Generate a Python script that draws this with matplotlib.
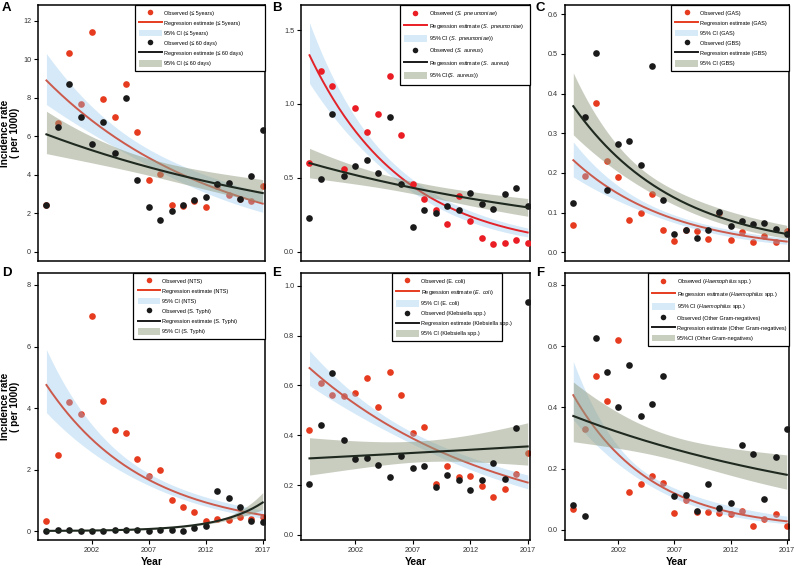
import numpy as np
import matplotlib.pyplot as plt
from matplotlib.lines import Line2D
from matplotlib.patches import Patch

plt.rcParams['font.family'] = ['Liberation Sans', 'DejaVu Sans']
plt.rcParams['mathtext.fontset'] = 'custom'
plt.rcParams['mathtext.rm'] = 'Liberation Sans'
plt.rcParams['mathtext.it'] = 'Liberation Sans:italic'

# ------------------------------------
# Data (incidence per 1000), 1998 - 2017
# fit = regression estimate at 1998 / 2017
# lo, hi = 95% CI at 1998 / 2007.5 / 2017
# ------------------------------------
years = np.arange(1998, 2018)

a_red = [2.45, 6.7, 10.35, 7.7, 11.4, 7.95, 7.0, 8.7, 6.2, 3.75,
         4.05, 2.45, 2.4, 2.65, 2.35, 3.4, 2.95, 2.75, 2.65, 3.4]
a_black = [2.45, 6.5, 8.7, 7.0, 5.6, 6.75, 5.15, 8.0, 3.75, 2.3,
           1.65, 2.1, 2.45, 2.7, 2.85, 3.5, 3.55, 2.75, 3.95, 6.3]
a_red_fit = [8.9, 2.5]
a_red_lo = [7.65, 4.31, 2.05]
a_red_hi = [10.3, 5.16, 3.05]
a_black_fit = [6.1, 3.05]
a_black_lo = [5.1, 3.90, 2.55]
a_black_hi = [7.3, 4.76, 3.75]

b_red = [0.60, 1.22, 1.12, 0.56, 0.97, 0.81, 0.93, 1.19, 0.79, 0.46,
         0.36, 0.28, 0.19, 0.38, 0.21, 0.09, 0.05, 0.06, 0.08, 0.06]
b_black = [0.23, 0.49, 0.93, 0.51, 0.58, 0.62, 0.53, 0.91, 0.46, 0.17,
           0.28, 0.26, 0.31, 0.28, 0.40, 0.32, 0.29, 0.39, 0.43, 0.31]
b_red_fit = [1.33, 0.13]
b_red_lo = [1.14, 0.376, 0.10]
b_red_hi = [1.55, 0.46, 0.16]
b_black_fit = [0.60, 0.30]
b_black_lo = [0.50, 0.385, 0.24]
b_black_hi = [0.70, 0.467, 0.36]

c_red = [0.068, 0.192, 0.376, 0.231, 0.189, 0.082, 0.099, 0.146, 0.057, 0.028,
         0.055, 0.053, 0.033, 0.098, 0.030, 0.050, 0.027, 0.040, 0.027, 0.053]
c_black = [0.125, 0.34, 0.501, 0.157, 0.274, 0.280, 0.221, 0.469, 0.132, 0.046,
           0.057, 0.036, 0.057, 0.102, 0.067, 0.078, 0.070, 0.074, 0.059, 0.045]
c_red_fit = [0.232, 0.027]
c_red_lo = [0.19, 0.070, 0.02]
c_red_hi = [0.278, 0.089, 0.035]
c_black_fit = [0.368, 0.046]
c_black_lo = [0.296, 0.113, 0.035]
c_black_hi = [0.452, 0.150, 0.068]

d_red = [0.33, 2.46, 4.21, 3.80, 6.99, 4.22, 3.30, 3.18, 2.34, 1.80,
         1.99, 1.00, 0.78, 0.62, 0.32, 0.40, 0.37, 0.45, 0.38, 0.45]
d_black = [0.0, 0.02, 0.02, 0.0, 0.0, 0.0, 0.05, 0.03, 0.02, 0.01,
           0.02, 0.02, 0.01, 0.11, 0.18, 1.29, 1.06, 0.79, 0.33, 0.29]
d_red_fit = [4.75, 0.52]
d_red_lo = [3.85, 1.40, 0.42]
d_red_hi = [5.9, 1.77, 0.68]
d_black_fit = [0.0064, 0.93]
d_black_lo = [0.003, 0.058, 0.70]
d_black_hi = [0.014, 0.10, 1.25]

e_red = [0.42, 0.61, 0.56, 0.557, 0.568, 0.63, 0.514, 0.656, 0.561, 0.41,
         0.432, 0.206, 0.276, 0.234, 0.238, 0.198, 0.153, 0.182, 0.244, 0.329]
e_black = [0.205, 0.442, 0.65, 0.379, 0.305, 0.309, 0.282, 0.234, 0.315, 0.269,
           0.278, 0.194, 0.242, 0.221, 0.178, 0.221, 0.29, 0.224, 0.43, 0.937]
e_red_fit = [0.67, 0.21]
e_red_lo = [0.60, 0.353, 0.185]
e_red_hi = [0.74, 0.399, 0.24]
e_black_fit = [0.307, 0.355]
e_black_lo = [0.24, 0.293, 0.28]
e_black_hi = [0.39, 0.377, 0.45]

f_red = [0.067, 0.329, 0.502, 0.421, 0.62, 0.124, 0.150, 0.177, 0.152, 0.054,
         0.097, 0.06, 0.057, 0.054, 0.052, 0.063, 0.013, 0.034, 0.052, 0.013]
f_black = [0.08, 0.045, 0.628, 0.515, 0.40, 0.538, 0.373, 0.412, 0.503, 0.112,
           0.115, 0.062, 0.15, 0.07, 0.089, 0.278, 0.249, 0.10, 0.238, 0.33]
f_red_fit = [0.44, 0.028]
f_red_lo = [0.36, 0.096, 0.02]
f_red_hi = [0.55, 0.129, 0.045]
f_black_fit = [0.372, 0.18]
f_black_lo = [0.288, 0.224, 0.133]
f_black_hi = [0.483, 0.299, 0.245]

a_labels = ["Observed (≤ 5years)", "Regression estimate (≤ 5years)", "95% CI (≤ 5years)",
            "Observed (≤ 60 days)", "Regression estimate (≤ 60 days)", "95% CI (≤ 60 days)"]
b_labels = [r"Observed ($\it{S.\ pneumoniae}$)", r"Regression estimate ($\it{S.\ pneumoniae}$)",
            r"95% CI ($\it{S.\ pneumoniae}$))", r"Observed ($\it{S.\ aureus}$)",
            r"Regression estimate ($\it{S.\ aureus}$)", r"95% CI($\it{S.\ aureus}$))"]
c_labels = ["Observed (GAS)", "Regression estimate (GAS)", "95% CI (GAS)",
            "Observed (GBS)", "Regression estimate (GBS)", "95% CI (GBS)"]
d_labels = ["Observed (NTS)", "Regression estimate (NTS)", "95% CI (NTS)",
            "Observed (S. Typhi)", "Regression estimate (S. Typhi)", "95% CI (S. Typhi)"]
e_labels = ["Observed (E. coli)", r"Regression estimate ($\it{E.\ coli}$)", "95% CI (E. coli)",
            "Observed (Klebsiella spp.)", "Regression estimate (Klebsiella spp.)",
            "95% CI (Klebsiella spp.)"]
f_labels = [r"Observed ($\it{Haemophilus}$ spp.)", r"Regression estimate ($\it{Haemophilus}$ spp.)",
            r"95% CI ($\it{Haemophilus}$ spp.)", "Observed (Other Gram-negatives)",
            "Regression estimate (Other Gram-negatives)", "95%CI (Other Gram-negatives)"]

year_ticks = [2002, 2007, 2012, 2017]

RED = "#e63b1f"
RED_LINE = "#cc5a4c"
BLUE = "#8fc5ec"
GREEN = "#929c80"
BLACK = "#1a1a1a"
BLACK_LINE = "#1f291f"


# ------------------------------------
# Regression curve with log-scale CI band
# ------------------------------------
def regression_curve(t, fit, lo, hi):
    knots = np.array([1998, 2007.5, 2017])
    slope = (np.log(fit[1]) - np.log(fit[0])) / 19
    centre = np.log(fit[0]) + slope * (t - 1998)
    centre_k = np.log(fit[0]) + slope * (knots - 1998)
    w_lo = np.polyfit(knots, (centre_k - np.log(lo)) ** 2, 2)
    w_hi = np.polyfit(knots, (np.log(hi) - centre_k) ** 2, 2)
    lower = np.exp(centre - np.sqrt(np.clip(np.polyval(w_lo, t), 0, None)))
    upper = np.exp(centre + np.sqrt(np.clip(np.polyval(w_hi, t), 0, None)))
    return np.exp(centre), lower, upper


# ------------------------------------
# One panel
# ------------------------------------
def draw_panel(ax, red, black, red_fit, red_lo, red_hi, black_fit, black_lo, black_hi,
               labels, ylim, yticks, yfmt, bottom, legend_box, red_col, red_line_col, red_top):

    t = np.linspace(1998, 2017, 200)
    r_fit, r_lo, r_hi = regression_curve(t, red_fit, red_lo, red_hi)
    k_fit, k_lo, k_hi = regression_curve(t, black_fit, black_lo, black_hi)

    rz = 4.2 if red_top else 2
    ax.plot(years, red, "o", color=red_col, ms=4.8, mec="none", zorder=rz)
    ax.fill_between(t, r_lo, r_hi, color=BLUE, alpha=0.37, lw=0, zorder=3)
    ax.plot(t, r_fit, color=red_line_col, lw=1.4, zorder=3.2)
    ax.fill_between(t, k_lo, k_hi, color=GREEN, alpha=0.5, lw=0, zorder=3.5)
    ax.plot(years, black, "o", color=BLACK, ms=4.8, mec="none", zorder=5)
    ax.plot(t, k_fit, color=BLACK_LINE, lw=1.5, zorder=5.5)

    ax.set_xlim(1997.26, 2017.2)
    ax.set_ylim(ylim)
    ax.set_yticks(yticks)
    ax.set_yticklabels([yfmt.format(v) for v in yticks])

    if bottom:
        ax.set_xticks(year_ticks)
        ax.set_xticklabels([str(y) for y in year_ticks])
        ax.set_xlabel("Year", fontsize=7.5, fontweight="bold", labelpad=2)
    else:
        ax.set_xticks([])

    ax.tick_params(direction="out", length=3, width=0.8, labelsize=5.2,
                   labelcolor="#333333", pad=2)
    for s in ax.spines.values():
        s.set_linewidth(1.1)

    handles = [
        Line2D([], [], marker="o", ls="none", color=red_col, ms=4.0, mec="none"),
        Line2D([], [], color=red_col, lw=1.4),
        Patch(facecolor="#d6eaf8", edgecolor="none"),
        Line2D([], [], marker="o", ls="none", color=BLACK, ms=4.0, mec="none"),
        Line2D([], [], color=BLACK, lw=1.4),
        Patch(facecolor="#c9cfbf", edgecolor="none"),
    ]
    leg = ax.legend(handles, labels, loc="upper left",
                    bbox_to_anchor=(legend_box[0], 0, legend_box[1], 1), mode="expand",
                    borderaxespad=0, fontsize=4.0, fancybox=False, framealpha=1,
                    edgecolor="black", handlelength=4.0, handleheight=1.5,
                    labelspacing=0.6, handletextpad=0.45, borderpad=0.8)
    leg.get_frame().set_linewidth(0.9)
    leg.set_zorder(10)


fig = plt.figure(figsize=(7.94, 5.69), dpi=100)

W, H = 794, 569
col_left = [38, 301, 565]
col_width = [227, 229, 224]
row_top = [5, 273]
row_bottom = [261, 540]


def make_axes(row, col):
    l = col_left[col] / W
    b = 1 - row_bottom[row] / H
    return fig.add_axes([l, b, col_width[col] / W, (row_bottom[row] - row_top[row]) / H])


# legend box: left edge and width as fraction of the axes
panels = [
    (0, 0, a_red, a_black, a_red_fit, a_red_lo, a_red_hi, a_black_fit, a_black_lo, a_black_hi,
     a_labels, (-0.48, 12.82), [0, 2, 4, 6, 8, 10, 12], "{:.0f}", (0.427, 0.573),
     RED, RED_LINE, False),
    (0, 1, b_red, b_black, b_red_fit, b_red_lo, b_red_hi, b_black_fit, b_black_lo, b_black_hi,
     b_labels, (-0.063, 1.67), [0, 0.5, 1.0, 1.5], "{:.1f}", (0.432, 0.568),
     "#ea1d25", "#e3232a", True),
    (0, 2, c_red, c_black, c_red_fit, c_red_lo, c_red_hi, c_black_fit, c_black_lo, c_black_hi,
     c_labels, (-0.022, 0.623), [0, 0.1, 0.2, 0.3, 0.4, 0.5, 0.6], "{:.1f}", (0.473, 0.527),
     RED, RED_LINE, False),
    (1, 0, d_red, d_black, d_red_fit, d_red_lo, d_red_hi, d_black_fit, d_black_lo, d_black_hi,
     d_labels, (-0.29, 8.39), [0, 2, 4, 6, 8], "{:.0f}", (0.419, 0.581),
     RED, RED_LINE, False),
    (1, 1, e_red, e_black, e_red_fit, e_red_lo, e_red_hi, e_black_fit, e_black_lo, e_black_hi,
     e_labels, (-0.021, 1.052), [0, 0.2, 0.4, 0.6, 0.8, 1.0], "{:.1f}", (0.397, 0.48),
     RED, RED_LINE, False),
    (1, 2, f_red, f_black, f_red_fit, f_red_lo, f_red_hi, f_black_fit, f_black_lo, f_black_hi,
     f_labels, (-0.033, 0.839), [0, 0.2, 0.4, 0.6, 0.8], "{:.1f}", (0.37, 0.63),
     RED, RED_LINE, False),
]

letters = ["A", "B", "C", "D", "E", "F"]
letter_x = [2, 272, 536]
letter_y = [2, 267]

for i, p in enumerate(panels):
    row, col = p[0], p[1]
    ax = make_axes(row, col)
    draw_panel(ax, *p[2:14], bottom=(row == 1), legend_box=p[14],
               red_col=p[15], red_line_col=p[16], red_top=p[17])
    if col == 0:
        ax.set_ylabel("Incidence rate\n( per 1000)", fontsize=7.2, fontweight="bold",
                      linespacing=1.0)
        ax.yaxis.set_label_coords(-0.08, 0.5)
    fig.text(letter_x[col] / W, 1 - letter_y[row] / H, letters[i], fontsize=9.5,
             fontweight="bold", ha="left", va="top")

fig.savefig("out.png", dpi=100)
